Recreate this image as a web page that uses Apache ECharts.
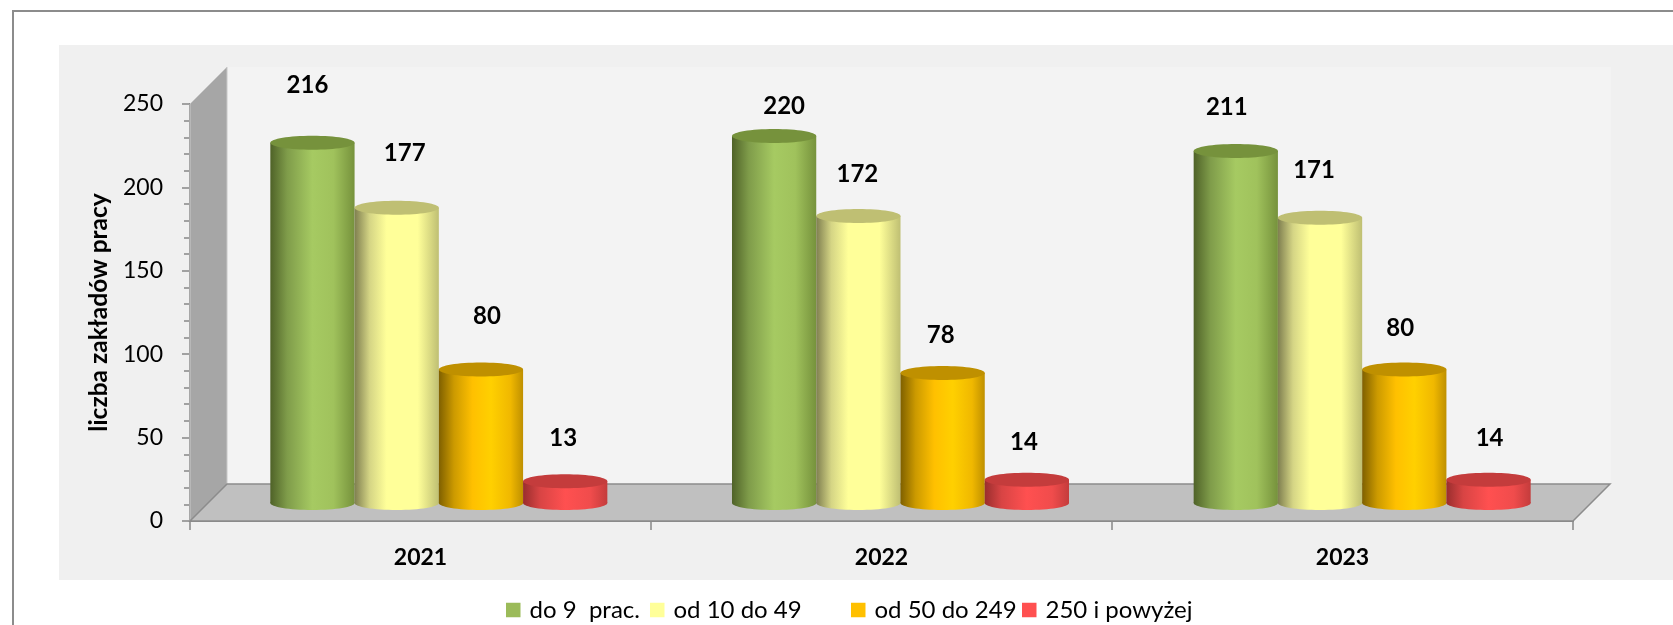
<!DOCTYPE html>
<html><head><meta charset="utf-8">
<style>html,body{margin:0;padding:0;background:#fff;overflow:hidden}#c{width:1673px;height:625px}</style>
<script src="https://cdn.jsdelivr.net/npm/echarts@6/dist/echarts.min.js"></script>
</head><body><div id="c"></div>
<script>
const categories = ['2021', '2022', '2023'];
const seriesNames = ['do 9  prac.', 'od 10 do 49', 'od 50 do 249', '250 i powyżej'];
const valuesUpTo9 = [216, 220, 211];
const values10to49 = [177, 172, 171];
const values50to249 = [80, 78, 80];
const values250plus = [13, 14, 14];
const yTicks = {min: 0, max: 250, interval: 50};
const axisTitle = 'liczba zakładów pracy';

const allValues = [valuesUpTo9, values10to49, values50to249, values250plus];
// label nudges relative to the top of each cylinder [dx, dy]
const labelNudges = [
  [[-5, -57], [10, -30], [-9, -44]],
  [[8, -54], [-1, -42], [-6, -48]],
  [[6, -53], [-2, -38], [-4, -41]],
  [[-2, -43], [-3, -37], [1, -41]]
];
const legendColors = ['#9BBB59', '#FFFF99', '#FFC000', '#FF5050'];
const capColors = ['#76923C', '#BFBF73', '#BF9000', '#C43C3C'];
const bodyStops = [
  [[0, '#4F6228'], [0.2, '#7F9C4A'], [0.5, '#A6CA62'], [0.75, '#A0C25C'], [1, '#76923C']],
  [[0, '#7F7F50'], [0.18, '#D5D585'], [0.38, '#FFFF99'], [0.75, '#FFFF99'], [1, '#BFBF73']],
  [[0, '#7F6000'], [0.18, '#CC9A00'], [0.4, '#FFC000'], [0.62, '#FFD000'], [0.85, '#F0B800'], [1, '#BF9000']],
  [[0, '#9A2E2E'], [0.2, '#D84444'], [0.5, '#FF5050'], [0.8, '#F04C4C'], [1, '#C43C3C']]
];
const legendLefts = [501, 645, 846, 1017];

const DEPTH = 37, CAT_FILL = 0.1825, RY = 7;
const grad = s => ({type: 'linear', x: 0, y: 0, x2: 1, y2: 0,
  colorStops: bodyStops[s].map(p => ({offset: p[0], color: p[1]}))});
const font = 'Lato, "Noto Sans", sans-serif';

const capData = [];
allValues.forEach((vals, s) => vals.forEach((v, c) => capData.push([c, v, s])));

function ellipseAt(api, val, isTop) {
  const c = api.value(0), s = api.value(2);
  const p = api.coord([c, val]);
  const w = api.size([1, 0])[0] * CAT_FILL;
  return {
    type: 'ellipse',
    shape: {cx: p[0] + (s - 1.5) * w, cy: p[1], rx: w / 2, ry: RY},
    style: {fill: isTop ? capColors[s] : grad(s)},
    silent: true
  };
}

const decor = {
  type: 'custom', xAxisIndex: 0, yAxisIndex: 0, z: 1, silent: true, data: [[0]],
  renderItem(params) {
    const g = params.coordSys, x0 = g.x, x1 = g.x + g.width, y0 = g.y, y1 = g.y + g.height, d = DEPTH;
    return {type: 'group', children: [
      {type: 'rect', shape: {x: x0 + d, y: y0 - d, width: g.width + 1, height: g.height},
        style: {fill: '#F3F3F3'}},
      {type: 'polygon', shape: {points: [[x0, y0], [x0 + d, y0 - d], [x0 + d, y1 - d], [x0, y1]]},
        style: {fill: '#A6A6A6', stroke: '#C8C8C8', lineWidth: 1}},
      {type: 'polygon', shape: {points: [[x0, y1], [x0 + d, y1 - d], [x1 + d, y1 - d], [x1, y1]]},
        style: {fill: '#C0C0C0', stroke: '#8C8C8C', lineWidth: 1.5}}
    ]};
  }
};

const series = [decor];
seriesNames.forEach((name, s) => {
  series.push({
    type: 'custom', xAxisIndex: 1, yAxisIndex: 1, z: 2 + s * 0.1, silent: true,
    encode: {x: 0, y: 1},
    data: capData.filter(d => d[2] === s),
    renderItem: (params, api) => ellipseAt(api, 0, false)
  });
});
seriesNames.forEach((name, s) => {
  series.push({
    name, type: 'bar', xAxisIndex: 1, yAxisIndex: 1, z: 3, barGap: 0, barWidth: (CAT_FILL * 100) + '%',
    itemStyle: {color: grad(s)},
    data: allValues[s].map((v, c) => ({
      value: v,
      label: {show: true, position: 'top', distance: 0, verticalAlign: 'middle', offset: labelNudges[s][c],
        formatter: '{c}', color: '#000', fontFamily: font, fontWeight: 'bold', fontSize: 24}
    }))
  });
});
series.push({
  type: 'custom', xAxisIndex: 1, yAxisIndex: 1, z: 4, silent: true,
  encode: {x: 0, y: 1}, data: capData,
  renderItem: (params, api) => ellipseAt(api, api.value(1), true)
});

const option = {
  animation: false,
  backgroundColor: '#fff',
  graphic: [
    {type: 'rect', z: -2, silent: true, shape: {x: 13, y: 11, width: 1720, height: 700},
      style: {fill: '#fff', stroke: '#8C8C8C', lineWidth: 2}},
    {type: 'rect', z: -1, silent: true, shape: {x: 59, y: 45, width: 1614, height: 535},
      style: {fill: '#F0F0F0'}}
  ],
  legend: seriesNames.map((n, i) => ({
    left: legendLefts[i], top: 593, itemWidth: 14.5, itemHeight: 14.5, itemGap: 0, icon: 'rect',
    data: [{name: n, itemStyle: {color: legendColors[i]}}],
    textStyle: {fontFamily: font, fontSize: 24, color: '#000', padding: [0, 0, 0, 4]},
    selectedMode: false
  })),
  grid: [
    {left: 190, top: 104, width: 1383, height: 417},
    {left: 208, top: 86, width: 1385, height: 417}
  ],
  xAxis: [
    {type: 'category', gridIndex: 0, data: categories, boundaryGap: true,
      axisLine: {lineStyle: {color: '#868686', width: 2}},
      axisTick: {show: true, alignWithLabel: false, length: 9, lineStyle: {color: '#868686', width: 1.5}},
      axisLabel: {color: '#000', fontFamily: font, fontWeight: 'bold', fontSize: 23, margin: 25}},
    {type: 'category', gridIndex: 1, data: categories, show: false}
  ],
  yAxis: [
    {type: 'value', gridIndex: 0, min: yTicks.min, max: yTicks.max, interval: yTicks.interval,
      name: axisTitle, nameLocation: 'middle', nameGap: 77, nameRotate: 90,
      nameTextStyle: {color: '#000', fontFamily: font, fontWeight: 'bold', fontSize: 24.5},
      axisLine: {show: true, lineStyle: {color: '#868686', width: 2}},
      axisTick: {show: true, length: 8, lineStyle: {color: '#868686', width: 1.5}},
      minorTick: {show: true, splitNumber: 5, length: 6, lineStyle: {color: '#868686', width: 1.5}},
      splitLine: {show: false},
      axisLabel: {color: '#000', fontFamily: font, fontSize: 23, margin: 27, padding: [6, 0, 0, 0]}},
    {type: 'value', gridIndex: 1, min: yTicks.min, max: yTicks.max, interval: yTicks.interval, show: false, splitLine: {show: false}}
  ],
  series
};
echarts.init(document.getElementById('c'), null, {renderer: 'canvas'}).setOption(option);
</script></body></html>
